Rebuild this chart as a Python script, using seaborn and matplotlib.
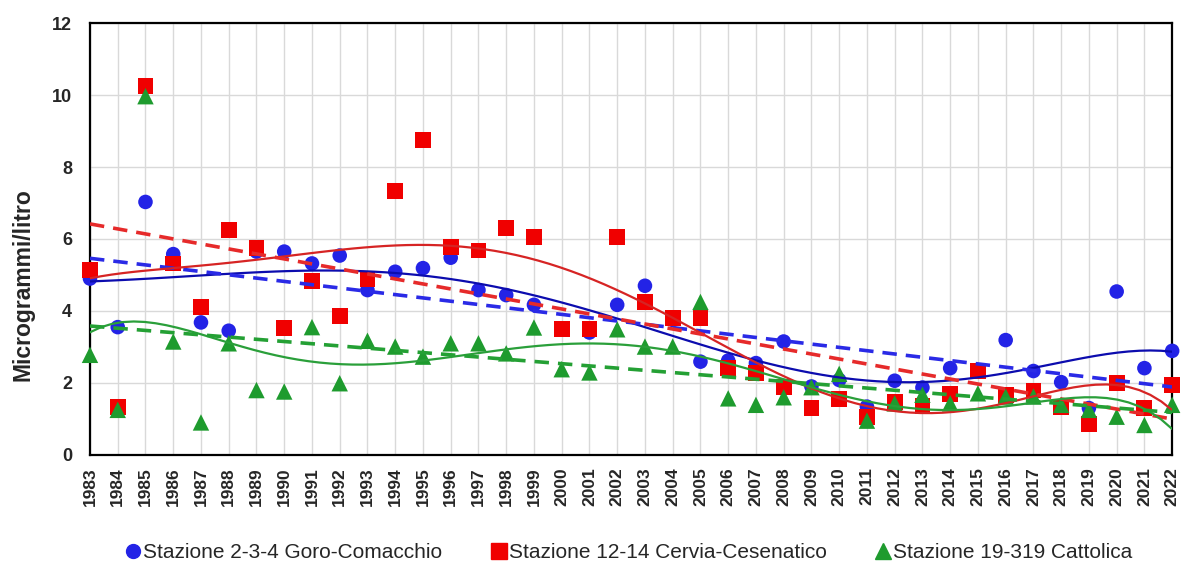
import numpy as np
import pandas as pd
import matplotlib
matplotlib.use("Agg")
import matplotlib.pyplot as plt
from matplotlib.lines import Line2D
import seaborn as sns

# -------- data --------
years = list(range(1983, 2023))

goro = [4.90, 3.55, 7.03, 5.58, 3.68, 3.45, 5.65, 5.65, 5.32, 5.54,
        4.58, 5.09, 5.19, 5.48, 4.58, 4.44, 4.17, 3.50, 3.40, 4.17,
        4.70, 3.75, 2.59, 2.62, 2.55, 3.15, 1.90, 2.08, 1.34, 2.06,
        1.87, 2.41, 2.33, 3.19, 2.33, 2.02, 1.30, 4.54, 2.41, 2.89]

cervia = [5.14, 1.34, 10.25, 5.32, 4.12, 6.25, 5.74, 3.52, 4.84, 3.86,
          4.88, 7.34, 8.75, 5.77, 5.68, 6.31, 6.05, 3.49, 3.49, 6.05,
          4.26, 3.80, 3.80, 2.41, 2.27, 1.88, 1.31, 1.55, 1.06, 1.48,
          1.36, 1.69, 2.33, 1.67, 1.79, 1.34, 0.86, 1.99, 1.30, 1.94]

cattolica = [2.78, 1.25, 9.97, 3.15, 0.90, 3.10, 1.80, 1.76, 3.55, 1.99,
             3.17, 3.01, 2.73, 3.10, 3.10, 2.82, 3.54, 2.38, 2.29, 3.49,
             3.01, 3.01, 4.25, 1.57, 1.39, 1.60, 1.88, 2.25, 0.95, 1.43,
             1.67, 1.43, 1.71, 1.62, 1.62, 1.39, 1.25, 1.06, 0.83, 1.39]

labels = ["Stazione 2-3-4 Goro-Comacchio",
          "Stazione 12-14 Cervia-Cesenatico",
          "Stazione 19-319 Cattolica"]

# -------- styles --------
series = [
    # values, marker, size, marker colour, poly colour, linear colour
    (goro, "o", 110, "#2323e6", "#0c0cae", "#2a2ae6"),
    (cervia, "s", 130, "#f00000", "#d62424", "#e62a2a"),
    (cattolica, "^", 140, "#1e9b2e", "#2a9f3a", "#24a034"),
]

idx = np.arange(len(years))  # category positions, like an Excel line chart

sns.set_theme(style="white")
plt.rcParams["font.family"] = ["Liberation Sans", "DejaVu Sans"]

fig, ax = plt.subplots(figsize=(11.84, 5.65), dpi=100)
fig.subplots_adjust(left=0.076, right=0.99, top=0.959, bottom=0.195)

for vals, mk, sz, mcol, pcol, lcol in series:
    df = pd.DataFrame({"x": idx, "y": vals})
    sns.scatterplot(data=df, x="x", y="y", marker=mk, s=sz, color=mcol,
                    edgecolor="none", ax=ax, zorder=3, clip_on=False)

for vals, mk, sz, mcol, pcol, lcol in series:
    df = pd.DataFrame({"x": idx, "y": vals})
    # polynomial trend (order 6) and linear trend
    sns.regplot(data=df, x="x", y="y", order=6, ci=None, scatter=False,
                ax=ax, line_kws={"color": pcol, "lw": 1.6, "zorder": 4})
    sns.regplot(data=df, x="x", y="y", order=1, ci=None, scatter=False,
                ax=ax, line_kws={"color": lcol, "lw": 2.6, "ls": (0, (4, 2.5)),
                                 "zorder": 4})

ax.set_xlim(0, len(years) - 1)
ax.set_ylim(0, 12)
ax.set_xticks(idx)
ax.set_xticklabels([str(y) for y in years], rotation=90, fontsize=12.5,
                   fontweight="bold")
ax.set_yticks(range(0, 13, 2))
ax.set_yticklabels([str(v) for v in range(0, 13, 2)], fontsize=13,
                   fontweight="bold")
ax.tick_params(length=0)
ax.tick_params(axis="x", pad=9)
ax.tick_params(axis="y", pad=13)
ax.set_xlabel("")
ax.set_ylabel("Microgrammi/litro", fontsize=16.5, fontweight="bold")
ax.yaxis.set_label_coords(-0.051, 0.394)

ax.grid(True, color="#d9d9d9", lw=1)
ax.set_axisbelow(True)
for sp in ax.spines.values():
    sp.set_color("black")
    sp.set_linewidth(1.6)

handles = [Line2D([], [], ls="none", marker=mk, color=mcol,
                  markersize=11 if mk != "o" else 10)
           for vals, mk, sz, mcol, pcol, lcol in series]
fig.legend(handles, labels, loc="center", bbox_to_anchor=(0.53, 0.022),
           ncol=3, frameon=False, fontsize=15, handletextpad=0.0,
           columnspacing=2.2, handlelength=1.0)

plt.savefig("out.png", dpi=100)
